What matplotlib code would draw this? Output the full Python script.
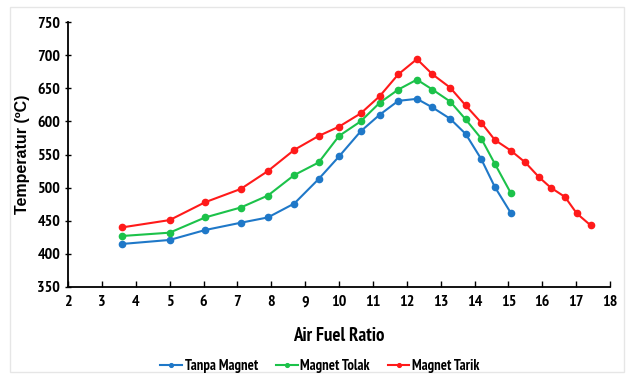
import matplotlib
matplotlib.use("Agg")
import matplotlib.pyplot as plt
from matplotlib.patches import Rectangle
from matplotlib import font_manager as fm

x_common = [3.6, 5.0, 6.05, 7.1, 7.9, 8.68, 9.4, 10.0, 10.64, 11.2, 11.75, 12.3, 12.76, 13.28, 13.74, 14.2, 14.6, 15.07]
x_tarik = x_common + [15.5, 15.9, 16.25, 16.67, 17.02, 17.43]

tanpa = [415, 421, 436, 447, 455, 476, 513, 547, 585, 610, 631, 634, 621, 604, 581, 543, 501, 462]
tolak = [427, 432, 455, 470, 488, 519, 538, 578, 600, 628, 648, 663, 648, 630, 603, 574, 536, 492]
tarik = [440, 451, 478, 498, 525, 557, 578, 592, 612, 638, 671, 694, 671, 651, 624, 598, 572, 556, 538, 516, 500, 486, 461, 443]

x_ticks = list(range(2, 19))
y_ticks = list(range(350, 751, 50))

# pick a condensed bold font if one is installed
fp = None
for f in fm.fontManager.ttflist:
    if 'Narrow' in f.name and f.weight in ('bold', 700):
        fp = f.fname
        break
if fp is None:
    for f in fm.fontManager.ttflist:
        if f.name == 'DejaVu Sans' and f.stretch in ('condensed', 'semi-condensed') and f.weight in ('bold', 700):
            fp = f.fname
            break
if fp is None:
    fp = fm.findfont(fm.FontProperties(family='Liberation Sans', weight='bold'))

def prop(size):
    return fm.FontProperties(fname=fp, size=size)

fig = plt.figure(figsize=(6.26, 3.82), dpi=100)
fig.patches.append(Rectangle((10/626, 10/382), 614/626, 365/382, transform=fig.transFigure,
                             fill=False, edgecolor='#e6e6e6', linewidth=1.0))
ax = fig.add_axes([68/626, 1 - 287/382, 542/626, 265/382])

ax.plot(x_common, tanpa, color='#1f78c8', marker='o', markersize=4.5, linewidth=1.5, label='Tanpa Magnet')
ax.plot(x_common, tolak, color='#1cc24a', marker='o', markersize=4.5, linewidth=1.5, label='Magnet Tolak')
ax.plot(x_tarik, tarik, color='#ff1a1a', marker='o', markersize=4.5, linewidth=1.5, label='Magnet Tarik')

ax.set_xlim(2, 18)
ax.set_ylim(350, 750)
ax.set_xticks(x_ticks)
ax.set_yticks(y_ticks)
ax.spines['top'].set_visible(False)
ax.spines['right'].set_visible(False)
ax.spines['left'].set_linewidth(1.3)
ax.spines['bottom'].set_linewidth(1.3)
ax.tick_params(axis='x', direction='in', length=4, width=1, pad=6)
ax.tick_params(axis='y', direction='inout', length=5, width=1, pad=3)
for lab in ax.get_xticklabels() + ax.get_yticklabels():
    lab.set_fontproperties(prop(11.5))

ax.set_xlabel('Air Fuel Ratio', fontproperties=prop(13.5), labelpad=13)
ax.set_ylabel('Temperatur (ºC)', fontsize=11.5, fontweight='bold',
              family=['Liberation Sans', 'DejaVu Sans'], labelpad=5)

leg = fig.legend(loc='center', bbox_to_anchor=(320/626, 1 - 366/382), ncol=3, frameon=False,
                 prop=prop(10.5), handlelength=1.5,
                 columnspacing=1.2, handletextpad=0.2, markerscale=0.6)

fig.savefig('out.png', dpi=100)
